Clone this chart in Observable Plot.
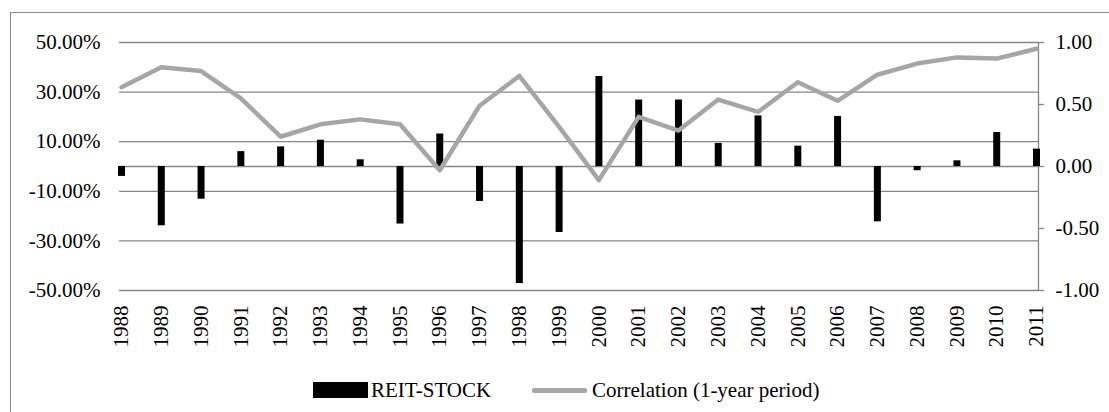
<!DOCTYPE html>
<html>
<head>
<meta charset="utf-8">
<script src="https://cdn.jsdelivr.net/npm/d3@7"></script>
<script src="https://cdn.jsdelivr.net/npm/@observablehq/plot@0.6"></script>
<style>
  html, body { margin: 0; padding: 0; background: #fff; width: 1109px; height: 412px; overflow: hidden; }
  #wrap { position: relative; width: 1109px; height: 412px; font-family: "Liberation Serif", "Times New Roman", serif; }
  #border { position: absolute; left: 10px; top: 12px; width: 1200px; height: 500px; border: 1.5px solid #8a8a8a; box-sizing: border-box; }
  #chart { position: absolute; left: 0; top: 0; }
  #chart svg, #chart svg text { font-family: "Liberation Serif", "Times New Roman", serif !important; }
  .leg { position: absolute; font-size: 21px; color: #000; line-height: 1; white-space: nowrap; }
</style>
</head>
<body>
<div id="wrap">
  <div id="border"></div>
  <div id="chart"></div>
  <div class="leg" style="left:313px; top:382px; width:55px; height:16px; background:#000;"></div>
  <div class="leg" style="left:371px; top:380px;">REIT-STOCK</div>
  <div class="leg" style="left:532px; top:388px; width:55px; height:4.5px; background:#a6a6a6; border-radius:2px;"></div>
  <div class="leg" style="left:592px; top:380px;">Correlation (1-year period)</div>
</div>
<script>
const years = [1988,1989,1990,1991,1992,1993,1994,1995,1996,1997,1998,1999,2000,2001,2002,2003,2004,2005,2006,2007,2008,2009,2010,2011];
const reitStock = [-4.0,-23.9,-13.2,6.0,7.9,10.6,2.7,-23.2,13.1,-14.1,-47.2,-26.6,36.3,26.8,26.8,9.3,20.4,8.2,20.2,-22.3,-1.7,2.3,13.7,7.0];
const correlation = [0.64,0.80,0.77,0.55,0.24,0.34,0.38,0.34,-0.03,0.49,0.73,0.32,-0.11,0.40,0.29,0.54,0.44,0.68,0.53,0.74,0.83,0.88,0.87,0.95];
const pctTicks = [-50,-30,-10,10,30,50];
const corrTicks = [-1,-0.5,0,0.5,1];
const seriesNames = ["REIT-STOCK", "Correlation (1-year period)"];

const rows = years.map((y, i) => ({year: y, reit: reitStock[i], corr: correlation[i]}));
const grid = "#878787";
const corrToPct = v => v * 50;

const chart = Plot.plot({
  width: 1109,
  height: 360,
  marginLeft: 119,
  marginRight: 71,
  marginTop: 42,
  marginBottom: 70,
  style: {fontFamily: "'Liberation Serif', 'Times New Roman', serif", fontSize: "21px", color: "#000", background: "transparent", overflow: "visible"},
  x: {type: "linear", domain: [1988, 2011], range: [121, 1036]},
  y: {domain: [-50, 50]},
  marks: [
    Plot.ruleY(pctTicks, {stroke: grid, strokeWidth: 1.3}),
    Plot.ruleY([0], {stroke: grid, strokeWidth: 1.3}),
    Plot.frame({anchor: "right", stroke: grid, strokeWidth: 1.3}),
    Plot.ruleX(rows, {x: "year", y1: 0, y2: "reit", stroke: "#000", strokeWidth: 7}),
    Plot.line(rows, {x: "year", y: d => corrToPct(d.corr), stroke: "#a6a6a6", strokeWidth: 4.5, strokeLinejoin: "round", strokeLinecap: "round"}),
    Plot.axisY(pctTicks, {anchor: "left", tickSize: 0, tickPadding: 19, tickFormat: d => d.toFixed(2) + "%", label: null}),
    Plot.axisY(corrTicks.map(corrToPct), {anchor: "right", tickSize: 5, tickPadding: 12, stroke: grid, strokeWidth: 1.3, tickFormat: d => (d / 50).toFixed(2), label: null}),
    Plot.axisX(years, {anchor: "bottom", tickRotate: -90, tickSize: 0, tickPadding: 15, tickFormat: d => String(d), label: null})
  ]
});
document.getElementById("chart").appendChild(chart);
</script>
</body>
</html>
